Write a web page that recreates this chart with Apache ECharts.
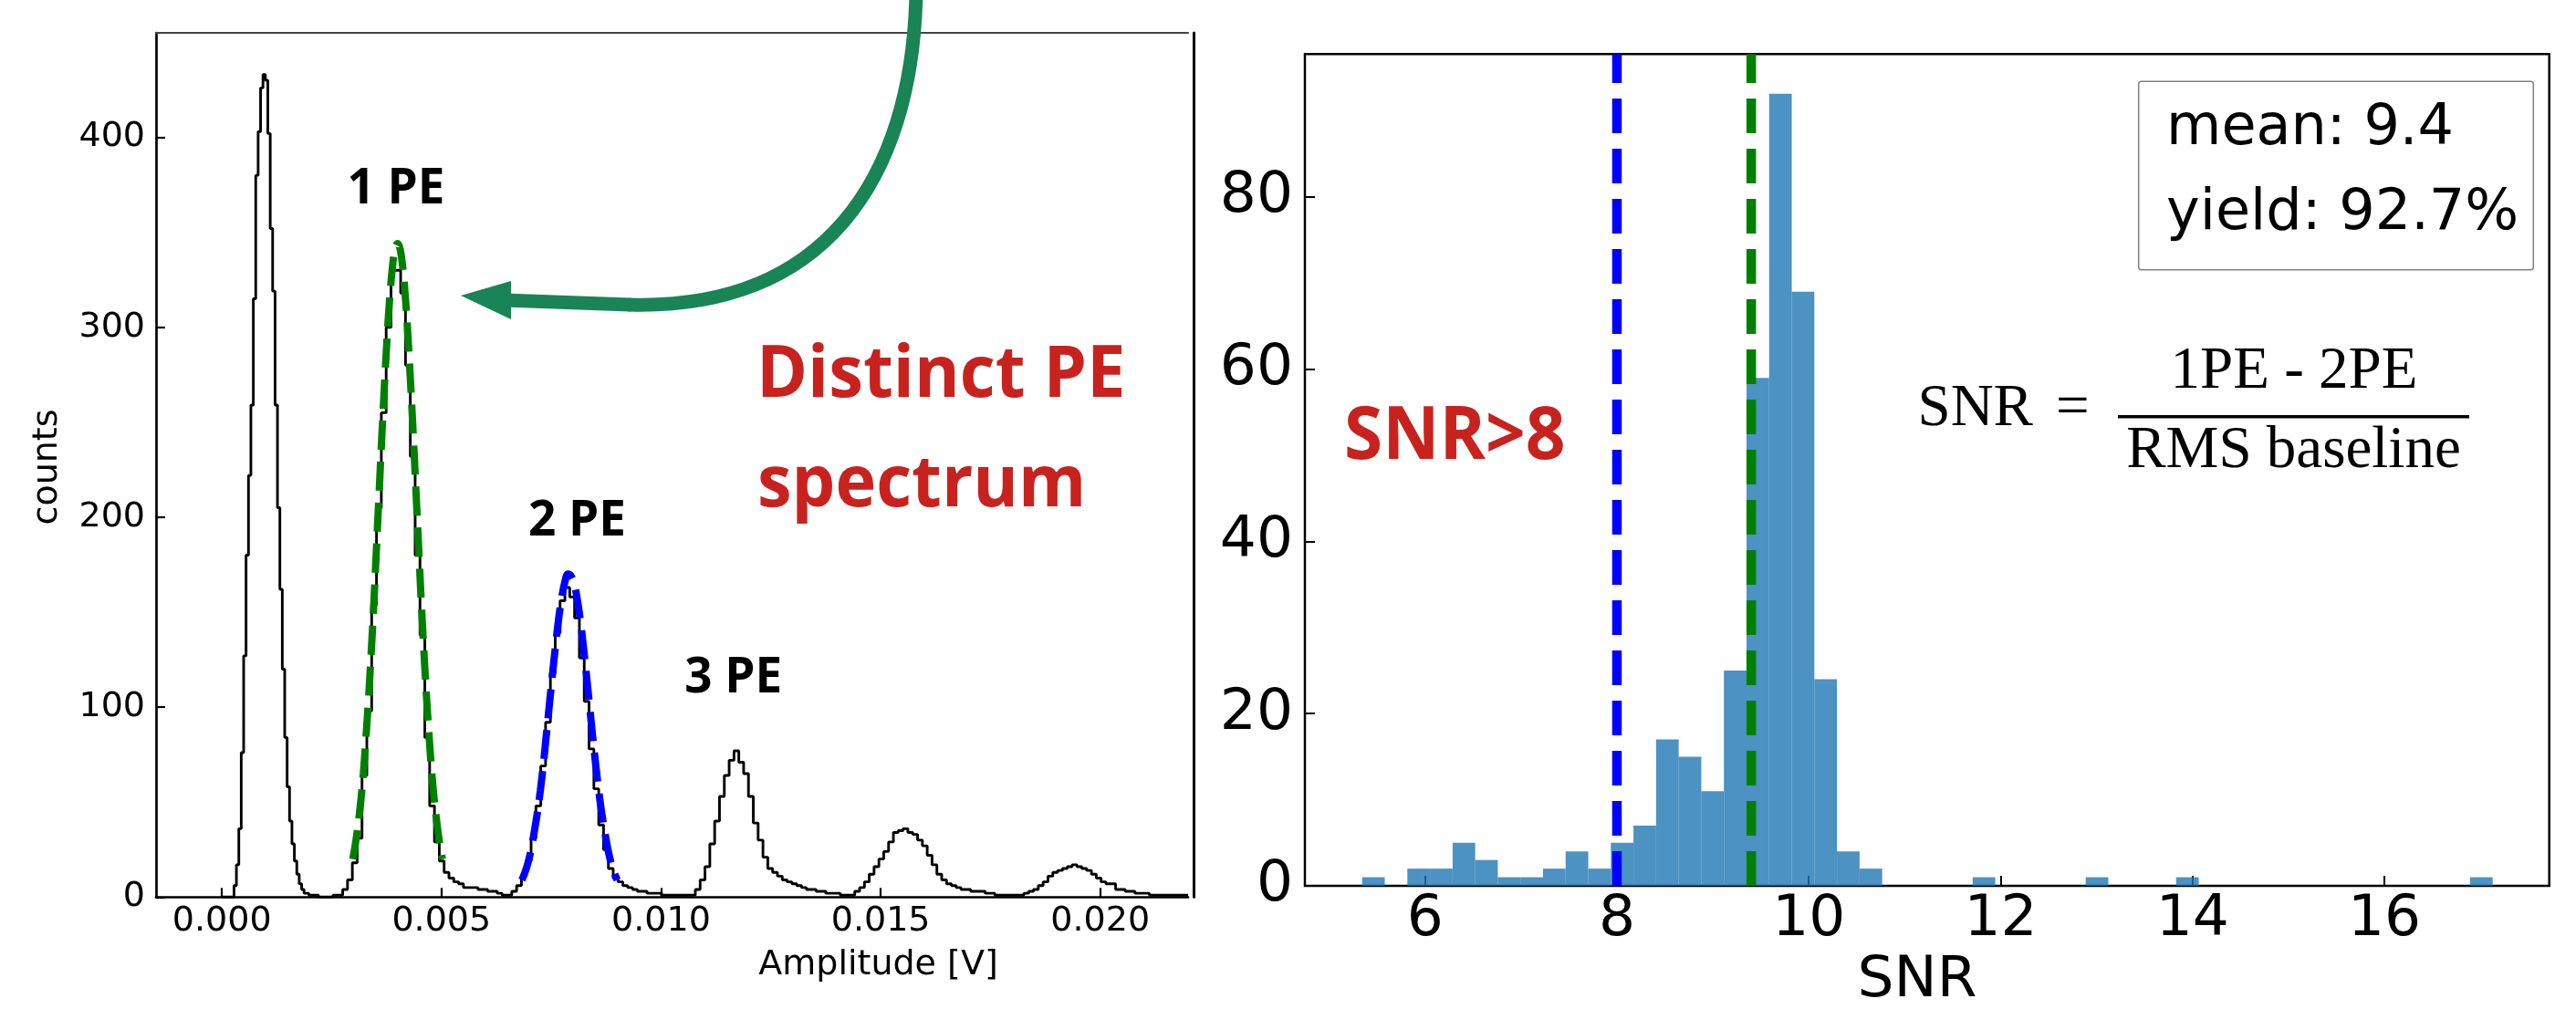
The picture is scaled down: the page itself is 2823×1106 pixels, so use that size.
<!DOCTYPE html>
<html><head><meta charset="utf-8">
<script src="https://cdn.jsdelivr.net/npm/echarts@6/dist/echarts.min.js"></script>
<style>html,body{margin:0;padding:0;background:#fff}#c{width:2823px;height:1106px}</style>
</head><body><div id="c"></div>
<script>
// ---------------- Left panel: PE amplitude spectrum ----------------
const ampTicks = [0, 0.005, 0.010, 0.015, 0.020];
const countTicks = [0, 100, 200, 300, 400];
const ampMin = -0.0015, ampMax = 0.022, countMax = 455;

// pedestal region, fine bins (width 0.000055) starting at 0.00022 V
const pedBinWidth = 0.000055;
const pedStart = 0.00022;
const pedCounts = [0, 6, 17, 36, 76, 127, 180, 222, 259, 315, 380, 403, 426, 433, 430, 402,
  352, 319, 259, 205, 162, 120, 84, 58, 40, 28, 19, 12, 7, 4, 2, 2];

// remaining spectrum, bins of 0.00011 V starting at 0.00198 V
const mainBinWidth = 0.00011;
const mainStart = 0.00198;
const mainCounts = [
  1, 1, 0, 0, 0, 1, 1, 4, 9, 18,
  31, 64, 98, 154, 205, 255, 300, 330, 330, 318,
  280, 232, 180, 138, 84, 48, 29, 19, 13, 10,
  8, 7, 5, 5, 5, 4, 4, 3, 3, 2,
  1, 1, 3, 6, 11, 19, 31, 48, 69, 92,
  118, 139, 156, 163, 158, 147, 126, 103, 78, 57,
  38, 25, 15, 10, 8, 6, 5, 4, 3, 3,
  2, 2, 2, 1, 1, 1, 1, 1, 1, 1,
  4, 9, 16, 28, 40, 53, 64, 72, 77, 71,
  65, 53, 39, 30, 21, 15, 13, 11, 9, 8,
  7, 6, 5, 4, 4, 3, 3, 2, 2, 2,
  1, 1, 1, 3, 5, 8, 12, 16, 20, 24,
  29, 34, 35, 36, 34, 33, 30, 27, 22, 17,
  12, 9, 7, 6, 5, 4, 4, 3, 3, 3,
  2, 2, 1, 1, 1, 1, 1, 1, 2, 3,
  4, 6, 8, 11, 13, 14, 15, 16, 17, 16,
  15, 14, 12, 10, 8, 7, 7, 4, 4, 3,
  3, 2, 2, 2, 1, 1, 1, 1, 1, 1,
  1, 1];

// fitted 1 PE curve (green dashed)
const fit1Amp = [0.00298,0.00304,0.00310,0.00316,0.00322,0.00328,0.00334,0.00340,0.00346,0.00352,
  0.00358,0.00364,0.00370,0.00376,0.00382,0.00388,0.00394,0.00400,0.00406,0.00412,0.00418,0.00424,
  0.00430,0.00436,0.00442,0.00448,0.00454,0.00460,0.00466,0.00472,0.00478,0.00484,0.00490,0.00496,0.00502];
const fit1Cnt = [20, 28, 38, 50, 65, 84, 105, 129, 155, 184, 213, 242, 269, 294, 315, 331, 341, 344,
  341, 331, 315, 294, 269, 242, 213, 184, 155, 129, 105, 84, 65, 50, 38, 28, 20];

// fitted 2 PE curve (blue dashed)
const fit2Amp = [0.00683,0.00690,0.00697,0.00704,0.00711,0.00718,0.00725,0.00732,0.00739,0.00746,
  0.00753,0.00760,0.00767,0.00774,0.00781,0.00788,0.00795,0.00802,0.00809,0.00816,0.00823,0.00830,
  0.00837,0.00844,0.00851,0.00858,0.00865,0.00872,0.00879,0.00886,0.00893,0.00900];
const fit2Cnt = [9, 13, 18, 25, 34, 44, 56, 70, 86, 102, 118, 133, 147, 158, 166, 170, 169, 165,
  157, 146, 132, 117, 101, 85, 70, 56, 44, 34, 25, 18, 13, 9];

const peLabels = ['1 PE', '2 PE', '3 PE'];
const leftTitle = ['Distinct PE', 'spectrum'];

// ---------------- Right panel: SNR histogram ----------------
const snrBinStart = 5.344;
const snrBinWidth = 0.2357;
const snrCounts = [1, 0, 2, 2, 5, 3, 1, 1, 2, 4,
  2, 5, 7, 17, 15, 11, 25, 59, 92, 69,
  24, 4, 2, 0, 0, 0, 0, 1, 0, 0,
  0, 0, 1, 0, 0, 0, 1, 0, 0, 0,
  0, 0, 0, 0, 0, 0, 0, 0, 0, 1];
const snrXTicks = [6, 8, 10, 12, 14, 16];
const snrYTicks = [0, 20, 40, 60, 80];
const snrMin = 4.747, snrMax = 17.719, snrCountMax = 96.6;
const snrThreshold = 8;
const snrMean = 9.4;
const statsLines = ['mean: 9.4', 'yield: 92.7%'];

// ---------------- build series data ----------------
const specData = [[0, 0]];
pedCounts.forEach((c, i) => specData.push([+(pedStart + i * pedBinWidth).toFixed(7), c]));
mainCounts.forEach((c, i) => specData.push([+(mainStart + i * mainBinWidth).toFixed(7), c]));
specData.push([ampMax, mainCounts[mainCounts.length - 1]]);

const fit1Data = fit1Amp.map((a, i) => [a, fit1Cnt[i]]);
const fit2Data = fit2Amp.map((a, i) => [a, fit2Cnt[i]]);

const snrBars = snrCounts.map((c, i) => [snrBinStart + i * snrBinWidth, snrBinStart + (i + 1) * snrBinWidth, c])
  .filter(d => d[2] > 0);

const DV = 'DejaVu Sans';
const RED = '#c8221f';
const ARROW = '#198456';

function txt(text, x, y, font, fill, align, extra) {
  return Object.assign({
    type: 'text', x: x, y: y, z: 100, silent: true,
    style: { text: text, font: font, fill: fill, align: align, textAlign: align,
             verticalAlign: 'middle', textVerticalAlign: 'middle' }
  }, extra || {});
}

const option = {
  animation: false,
  backgroundColor: '#ffffff',
  textStyle: { fontFamily: DV },
  grid: [
    { left: 171, top: 36, width: 1131, height: 947.3, show: false, outerBoundsMode: 'none', containLabel: false },
    { left: 1430, top: 59.3, width: 1363.7, height: 911.7, show: true, borderColor: '#000', borderWidth: 2.5,
      backgroundColor: 'transparent', outerBoundsMode: 'none', containLabel: false }
  ],
  xAxis: [
    { type: 'value', gridIndex: 0, min: ampMin, max: ampMax,
      axisLine: { show: true, onZero: false, lineStyle: { color: '#000', width: 2.7 } },
      axisTick: { show: true, inside: true, length: 10, customValues: ampTicks, lineStyle: { color: '#000', width: 2.2 } },
      axisLabel: { show: true, customValues: ampTicks, formatter: v => Number(v).toFixed(3),
        fontSize: 38, fontFamily: DV, color: '#000', margin: 8 },
      splitLine: { show: false } },
    { type: 'value', gridIndex: 0, position: 'top', min: ampMin, max: ampMax,
      axisLine: { show: true, onZero: false, lineStyle: { color: '#444', width: 2 } },
      axisTick: { show: false }, axisLabel: { show: false }, splitLine: { show: false } },
    { type: 'value', gridIndex: 1, min: snrMin, max: snrMax,
      axisLine: { show: false, onZero: false },
      axisTick: { show: true, inside: true, length: 11, customValues: snrXTicks, lineStyle: { color: '#000', width: 2 } },
      axisLabel: { show: true, customValues: snrXTicks, fontSize: 63, fontFamily: DV, color: '#000', margin: 6 },
      splitLine: { show: false } }
  ],
  yAxis: [
    { type: 'value', gridIndex: 0, min: 0, max: countMax,
      axisLine: { show: true, onZero: false, lineStyle: { color: '#000', width: 2.7 } },
      axisTick: { show: true, inside: true, length: 10, customValues: countTicks, lineStyle: { color: '#000', width: 2.2 } },
      axisLabel: { show: true, customValues: countTicks, fontSize: 38, fontFamily: DV, color: '#000', margin: 12 },
      splitLine: { show: false } },
    { type: 'value', gridIndex: 1, min: 0, max: snrCountMax,
      axisLine: { show: false, onZero: false },
      axisTick: { show: true, inside: true, length: 11, customValues: snrYTicks, lineStyle: { color: '#000', width: 2 } },
      axisLabel: { show: true, customValues: snrYTicks, fontSize: 63, fontFamily: DV, color: '#000', margin: 13 },
      splitLine: { show: false } },
    { type: 'value', gridIndex: 0, position: 'right', offset: 6, min: 0, max: countMax,
      axisLine: { show: true, onZero: false, lineStyle: { color: '#000', width: 3 } },
      axisTick: { show: false }, axisLabel: { show: false }, splitLine: { show: false } }
  ],
  series: [
    { type: 'line', xAxisIndex: 0, yAxisIndex: 0, step: 'end', data: specData, symbol: 'none', silent: true,
      lineStyle: { color: '#000', width: 2.9 }, z: 2 },
    { type: 'line', xAxisIndex: 0, yAxisIndex: 0, data: fit1Data, smooth: 0.4, symbol: 'none', silent: true,
      lineStyle: { color: '#008000', width: 8, type: [32, 13], cap: 'butt' }, z: 3 },
    { type: 'line', xAxisIndex: 0, yAxisIndex: 0, data: fit2Data, smooth: 0.4, symbol: 'none', silent: true,
      lineStyle: { color: '#0000ff', width: 8, type: [32, 13], cap: 'butt' }, z: 3 },
    { type: 'custom', xAxisIndex: 2, yAxisIndex: 1, data: snrBars, silent: true, z: 2,
      encode: { x: [0, 1], y: 2 },
      renderItem: function (params, api) {
        const p0 = api.coord([api.value(0), api.value(2)]);
        const p1 = api.coord([api.value(1), 0]);
        return { type: 'rect', shape: { x: p0[0], y: p0[1], width: p1[0] - p0[0], height: p1[1] - p0[1] },
          style: { fill: 'rgba(31,119,180,0.8)' } };
      } },
    { type: 'line', xAxisIndex: 2, yAxisIndex: 1, data: [[snrThreshold, 0], [snrThreshold, snrCountMax]],
      symbol: 'none', silent: true, z: 4, lineStyle: { color: '#0000ff', width: 10.5, type: [38, 17], cap: 'butt' } },
    { type: 'line', xAxisIndex: 2, yAxisIndex: 1, data: [[snrMean, 0], [snrMean, snrCountMax]],
      symbol: 'none', silent: true, z: 4, lineStyle: { color: '#008000', width: 10.5, type: [38, 17], cap: 'butt' } }
  ],
  graphic: [
    // axis titles
    txt('counts', 51.9, 512, '38px "DejaVu Sans"', '#000', 'center', { rotation: Math.PI / 2 }),
    txt('Amplitude [V]', 962.5, 1058.3, '38px "DejaVu Sans"', '#000', 'center'),
    txt('SNR', 2101, 1076.1, '63px "DejaVu Sans"', '#000', 'center'),
    // peak labels
    txt(peLabels[0], 434, 207.8, 'bold 53px "Open Sans"', '#000', 'center'),
    txt(peLabels[1], 632.4, 571.8, 'bold 53px "Open Sans"', '#000', 'center'),
    txt(peLabels[2], 803.7, 744.1, 'bold 53px "Open Sans"', '#000', 'center'),
    // red annotations
    txt(leftTitle[0], 829, 412.4, 'bold 78px "Open Sans"', RED, 'left', { scaleX: 0.972 }),
    txt(leftTitle[1], 830, 532.7, 'bold 78px "Open Sans"', RED, 'left', { scaleX: 0.97 }),
    txt('SNR>8', 1473, 480.3, 'bold 81px "Open Sans"', RED, 'left', { scaleX: 0.945 }),
    // stats box
    { type: 'rect', z: 90, silent: true, shape: { x: 2343.7, y: 89.3, width: 432.6, height: 206.4, r: 3 },
      style: { fill: 'rgba(255,255,255,0.8)', stroke: '#808080', lineWidth: 1.5 } },
    txt(statsLines[0], 2374, 141.8, '62px "DejaVu Sans"', '#000', 'left'),
    txt(statsLines[1], 2374, 235.2, '62px "DejaVu Sans"', '#000', 'left'),
    // formula
    txt('SNR', 2101.5, 449.1, '65px "Liberation Serif"', '#000', 'left'),
    txt('=', 2271.3, 449.1, '65px "Liberation Serif"', '#000', 'center'),
    txt('1PE - 2PE', 2514, 408.1, '65px "Liberation Serif"', '#000', 'center'),
    txt('RMS baseline', 2513.5, 495.1, '65px "Liberation Serif"', '#000', 'center'),
    { type: 'line', z: 100, silent: true, shape: { x1: 2321, y1: 456.7, x2: 2706, y2: 456.7 },
      style: { stroke: '#000', lineWidth: 3.5 } },
    // green arrow
    { type: 'bezierCurve', z: 100, silent: true,
      shape: { x1: 1004, y1: -8, cpx1: 1000, cpy1: 200, cpx2: 900, cpy2: 340, x2: 690, y2: 334 },
      style: { stroke: ARROW, lineWidth: 15, fill: null, lineCap: 'round' } },
    { type: 'line', z: 100, silent: true, shape: { x1: 690, y1: 334, x2: 552, y2: 329 },
      style: { stroke: ARROW, lineWidth: 15, lineCap: 'round' } },
    { type: 'polygon', z: 101, silent: true, shape: { points: [[505, 324], [560, 308], [560, 350]] },
      style: { fill: ARROW } }
  ]
};

const chart = echarts.init(document.getElementById('c'), null, { renderer: 'canvas', width: 2823, height: 1106 });
chart.setOption(option);
</script>
</body></html>
